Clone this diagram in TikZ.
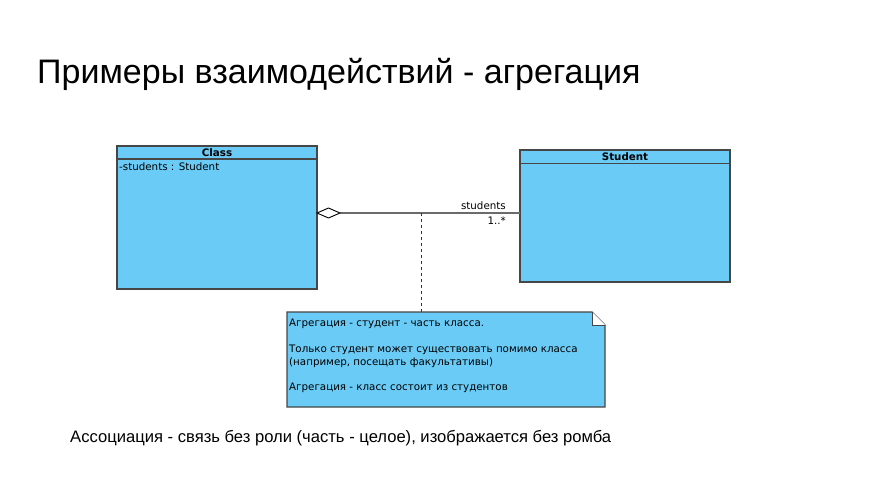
\documentclass[tikz,border=0pt]{standalone}
\usepackage{fontspec}
\setmainfont{Liberation Sans}
\newfontfamily\umlfont{DejaVu Sans}
\definecolor{umlfill}{RGB}{106,203,246}
\definecolor{umlline}{RGB}{70,70,70}
\tikzset{
  umlbox/.style={draw=umlline, fill=umlfill, line width=1.2pt},
  umltext/.style={font=\umlfont\fontsize{10.3}{12}\selectfont, inner sep=0pt},
  umlbold/.style={font=\umlfont\bfseries\fontsize{10.3}{12}\selectfont, inner sep=0pt},
  assoc/.style={draw=umlline!80, line width=1.2pt},
  notelink/.style={draw=black!80, line width=0.8pt, dash pattern=on 3pt off 3pt}
}
\begin{document}
\begin{tikzpicture}[x=1pt,y=-1pt]
\useasboundingbox[fill=white] (0,0) rectangle (876,492);
% title
\node[anchor=base west, inner sep=0pt, font=\fontsize{34}{37}\selectfont] (title) at (37,84) {Примеры взаимодействий - агрегация};
% Class
\draw[umlbox] (117,146) rectangle (317,289);
\draw[umlline, line width=1.2pt] (117,159) -- (317,159);
\coordinate (classE) at (317,213);
\node[umlbold] (classname) at (217,152.5) {Class};
\node[umltext, anchor=base west] (attr) at (119,171) {-students : Student};
% Student
\draw[umlbox] (520,150) rectangle (730,282);
\draw[umlline, line width=1.2pt] (520,163.5) -- (730,163.5);
\node[umlbold] (studentname) at (625,157) {Student};
\coordinate (studW) at (520,213);
% aggregation
\draw[assoc] (studW) -- (340,213);
\draw[draw=black, fill=white, line width=0.9pt] (classE) -- (328.5,208) -- (340,213) -- (328.5,218) -- cycle;
\node[umltext, anchor=base east] (role) at (506,210) {students};
\node[umltext, anchor=base east] (mult) at (506,225) {1..*};
% note
\coordinate (linkTop) at (421,213);
\coordinate (linkBot) at (421,312);
\draw[notelink] (linkTop) -- (linkBot);
\draw[umlbox] (287,312) -- (592,312) -- (605,325) -- (605,407) -- (287,407) -- cycle;
\draw[umlline, line width=0.9pt, fill=white] (592,312) -- (592,325) -- (605,325);
\node[umltext, anchor=base west] (note) at (289,326) {Агрегация - студент - часть класса.};
\node[umltext, anchor=base west] (n2) at (289,352) {Только студент может существовать помимо класса};
\node[umltext, anchor=base west] (n3) at (289,365) {(например, посещать факультативы)};
\node[umltext, anchor=base west] (n4) at (289,390.5) {Агрегация - класс состоит из студентов};
% bottom text
\node[anchor=base west, inner sep=0pt, font=\fontsize{16.6}{19}\selectfont] (bottom) at (70,442) {Ассоциация - связь без роли (часть - целое), изображается без ромба};
\end{tikzpicture}
\end{document}
